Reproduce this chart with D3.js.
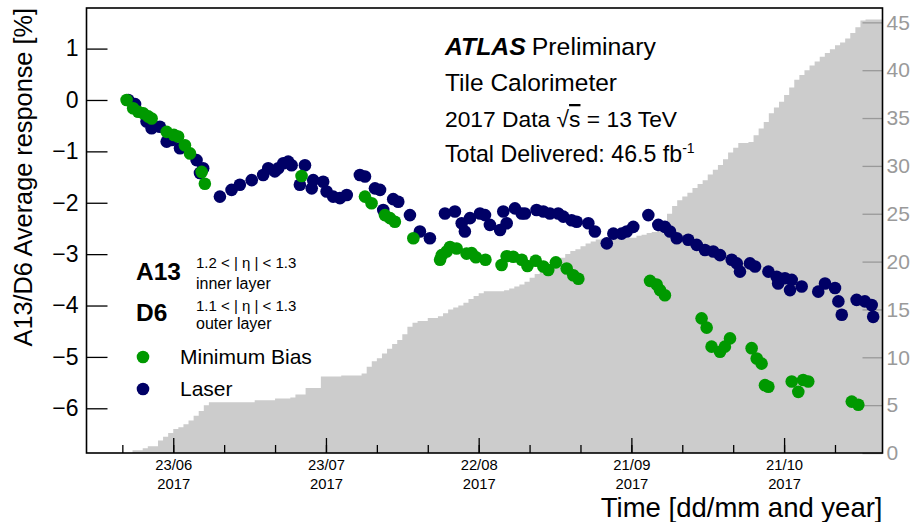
<!DOCTYPE html>
<html><head><meta charset="utf-8">
<script src="https://cdn.jsdelivr.net/npm/d3@7"></script>
<style>
body{margin:0;background:#fff}
text{font-family:"Liberation Sans",Arial,Helvetica,sans-serif}
</style>
</head><body>
<svg id="chart" width="914" height="522"></svg>
<script>
// ---------------- data ----------------
const laserDates = ["06-14 04","06-15 12","06-17 18","06-18 18","06-20 09","06-21 17","06-22 17","06-24 08","06-27 14","06-28 21",
"06-28 06","07-02 04","07-04 11","07-06 02","07-08 10","07-10 16","07-11 16","07-12 23","07-13 15","07-14 15",
"07-15 14","07-16 06","07-17 21","07-18 21","07-20 05","07-20 12","07-22 11","07-23 03","07-24 10","07-25 18",
"07-27 02","07-29 16","07-30 16","08-01 15","08-02 15","08-03 06","08-05 05","08-06 05","08-08 12","08-10 11",
"08-12 10","08-15 09","08-17 08","08-18 16","08-19 07","08-20 07","08-22 06","08-23 06","08-24 05","08-26 05",
"08-26 20","08-27 12","08-29 03","08-30 11","08-31 02","09-02 09","09-03 17","09-05 00","09-06 15","09-07 15",
"09-09 06","09-10 06","09-12 13","09-13 20","09-16 04","09-17 11","09-19 02","09-20 02","09-21 09","09-24 08",
"09-26 07","09-27 14","09-28 14","09-29 22","10-02 04","10-03 20","10-05 11","10-07 02","10-08 10","10-10 17",
"10-11 17","10-12 08","10-14 07","10-15 07","10-17 22","10-19 13","10-19 20","10-21 04","10-22 04","10-22 12",
"10-24 11","10-27 17","10-29 01","10-31 00","10-31 16","11-01 08","11-04 06","11-05 21","11-07 05","11-07 12"];
const laserValues = [0.00,-0.08,-0.42,-0.55,-0.52,-0.81,-0.78,-0.94,-1.17,-1.33,
-1.42,-1.88,-1.75,-1.65,-1.56,-1.46,-1.33,-1.39,-1.33,-1.23,
-1.20,-1.27,-1.65,-1.27,-1.72,-1.56,-1.59,-1.78,-1.88,-1.91,
-1.85,-1.46,-1.49,-1.72,-1.75,-2.14,-1.93,-1.98,-2.24,-2.56,
-2.69,-2.21,-2.17,-2.40,-2.56,-2.30,-2.21,-2.24,-2.43,-2.53,
-2.17,-2.40,-2.11,-2.21,-2.21,-2.14,-2.17,-2.21,-2.21,-2.27,
-2.34,-2.37,-2.40,-2.56,-2.79,-2.60,-2.60,-2.56,-2.47,-2.24,
-2.43,-2.47,-2.56,-2.69,-2.72,-2.82,-2.92,-2.95,-3.02,-3.11,
-3.18,-3.34,-3.18,-3.24,-3.34,-3.44,-3.57,-3.47,-3.70,-3.50,
-3.63,-3.73,-3.57,-3.66,-3.92,-4.18,-3.89,-3.92,-3.99,-4.22];

const mbDates = ["06-13 20","06-15 03","06-16 03","06-17 03","06-18 02","06-18 18","06-21 17","06-23 03","06-23 23","06-25 07",
"06-26 07","06-28 14","06-29 05","07-18 05","07-30 16","07-31 23","08-03 14","08-04 14","08-05 13","08-09 04",
"08-14 10","08-14 18","08-15 17","08-16 09","08-17 16","08-19 15","08-20 15","08-21 11","08-23 08","08-26 12",
"08-27 12","08-28 19","08-30 11","08-31 14","09-02 05","09-03 17","09-04 16","09-06 04","09-08 07","09-09 14",
"09-10 14","09-24 16","09-25 23","09-26 15","09-27 14","10-04 19","10-05 19","10-06 18","10-08 10","10-09 09",
"10-10 09","10-14 15","10-15 15","10-16 14","10-17 06","10-17 22","10-22 12","10-23 19","10-24 18","10-25 18",
"11-03 07","11-04 14"];
const mbValues = [0.00,-0.16,-0.23,-0.26,-0.32,-0.36,-0.62,-0.68,-0.71,-0.88,
-1.04,-1.40,-1.63,-1.48,-1.88,-2.01,-2.24,-2.30,-2.37,-2.69,
-3.11,-3.02,-2.95,-2.86,-2.89,-2.99,-2.98,-3.06,-3.11,-3.21,
-3.04,-3.05,-3.11,-3.23,-3.13,-3.24,-3.31,-3.16,-3.28,-3.41,
-3.48,-3.52,-3.59,-3.70,-3.80,-4.25,-4.43,-4.80,-4.90,-4.80,
-4.64,-4.83,-5.03,-5.13,-5.55,-5.58,-5.48,-5.68,-5.45,-5.48,
-5.87,-5.93];

// cumulative delivered luminosity [fb^-1]
const lumiDates = ["06-14","06-15","06-17","06-18","06-20","06-21","06-22","06-23","06-24","06-25","06-26","06-27","06-28","06-29","06-30",
"07-09","07-13","07-16","07-17","07-19","07-22","07-26","07-30","07-31",
"08-01","08-02","08-03","08-04","08-05","08-06","08-07","08-08","08-09","08-10",
"08-12","08-14","08-15","08-16","08-17","08-18","08-19","08-20","08-21","08-22","08-23",
"08-27","08-28","08-29","08-30","08-31",
"09-01","09-02","09-03","09-04","09-05","09-06","09-07","09-08","09-09","09-10","09-11","09-12","09-13","09-14","09-15",
"09-18","09-22","09-23","09-24","09-25","09-26","09-27","09-28","09-29","09-30",
"10-01","10-02","10-03","10-04","10-05","10-06","10-07","10-08","10-09","10-10","10-11","10-12",
"10-14","10-15","10-16","10-17","10-18","10-19","10-20","10-21","10-22","10-23","10-24","10-25","10-26","10-27","10-28","10-29","10-30","10-31",
"11-01","11-02","11-03","11-04","11-05","11-06"];
const lumiValues = [0.0,0.3,0.5,0.7,1.3,1.7,2.1,2.5,2.7,3.0,3.4,3.9,4.4,5.0,5.3,
5.5,5.7,5.8,6.1,6.8,8.0,8.1,8.3,9.0,
9.6,9.9,10.4,10.9,11.4,11.8,12.4,13.2,13.6,13.8,
14.1,14.3,14.6,15.0,15.2,15.4,15.7,16.1,16.4,16.7,16.9,
17.0,17.2,17.4,17.6,17.9,
18.3,18.7,19.1,19.5,19.8,20.1,20.4,20.8,21.1,21.3,21.6,21.9,22.1,22.3,22.4,
22.5,22.7,22.8,23.0,23.1,23.4,24.2,25.0,25.8,26.4,
26.8,27.2,27.7,28.1,28.5,29.1,29.6,30.1,30.7,31.4,31.9,32.4,
32.5,33.2,33.9,34.6,35.5,36.1,36.7,37.4,38.2,39.0,39.5,40.0,40.5,40.9,41.4,41.8,42.2,42.6,
42.9,43.3,43.9,44.5,45.2,45.3];

const timeRange = ["06-05 23","11-09 08"];
const responseRange = [-6.87, 1.79];
const lumiMax = 46.5;
const responseTicks = [1,0,-1,-2,-3,-4,-5,-6];
const lumiTicks = [0,5,10,15,20,25,30,35,40,45];
const majorTickDates = ["06-23","07-23","08-22","09-21","10-21"];

// ---------------- setup ----------------
const parseDH = d3.utcParse("%Y-%m-%d %H");
const pt = s => parseDH("2017-" + (s.length > 5 ? s : s + " 00"));

const W = 914, H = 522;
const L = 86.5, R = 882.5, T = 8, B = 453;
const svg = d3.select("#chart");
const font = '"Liberation Sans",Arial,Helvetica,sans-serif';

const x = d3.scaleUtc().domain(timeRange.map(pt)).range([L, R]);
const y = d3.scaleLinear().domain(responseRange).range([B, T]);
const yR = d3.scaleLinear().domain([0, lumiMax]).range([B, T]);

const green = "#009900", navy = "#000066", grey = "#cccccc";

svg.append("rect").attr("width", W).attr("height", H).attr("fill", "#fff");

svg.append("clipPath").attr("id", "frame").append("rect")
  .attr("x", L).attr("y", T).attr("width", R - L).attr("height", B - T);

// luminosity histogram
const lumi = lumiDates.map((d, i) => ({t: pt(d), v: lumiValues[i]}));
lumi.push({t: x.domain()[1], v: lumiValues[lumiValues.length - 1]});
const area = d3.area().curve(d3.curveStepAfter)
  .x(d => x(d.t)).y0(yR(0)).y1(d => yR(d.v));
svg.append("path").datum(lumi).attr("d", area)
  .attr("fill", grey).attr("clip-path", "url(#frame)");

// right axis (luminosity)
const rAx = svg.append("g").attr("transform", `translate(${R},0)`)
  .call(d3.axisRight(yR).tickValues(lumiTicks).tickSize(-20).tickPadding(4).tickFormat(d3.format("d")));
rAx.select(".domain").remove();
rAx.selectAll("line").attr("stroke", "#999").attr("stroke-width", 1.3);
rAx.selectAll("text").attr("fill", "#9a9a9a").style("font-size", "21px").style("font-family", font);

// points
const r = 6.3;
svg.append("g").selectAll("circle").data(laserDates.map((d, i) => [pt(d), laserValues[i]]))
  .join("circle").attr("cx", d => x(d[0])).attr("cy", d => y(d[1])).attr("r", r).attr("fill", navy);
svg.append("g").selectAll("circle").data(mbDates.map((d, i) => [pt(d), mbValues[i]]))
  .join("circle").attr("cx", d => x(d[0])).attr("cy", d => y(d[1])).attr("r", r).attr("fill", green);

// left axis
const lAx = svg.append("g").attr("transform", `translate(${L},0)`)
  .call(d3.axisLeft(y).tickValues(responseTicks).tickSize(-21).tickPadding(8)
    .tickFormat(d => d < 0 ? "\u2212" + Math.abs(d) : String(d)));
lAx.select(".domain").remove();
lAx.selectAll("line").attr("stroke", "#000").attr("stroke-width", 1.3);
lAx.selectAll("text").attr("fill", "#000").style("font-size", "23px").style("font-family", font);

// bottom axis: minor then major ticks
const minorDates = d3.range(-10, 151, 10).map(k => d3.utcDay.offset(pt("06-23"), k))
  .filter(d => d > x.domain()[0] && d < x.domain()[1]);
const bMin = svg.append("g").attr("transform", `translate(0,${B})`)
  .call(d3.axisBottom(x).tickValues(minorDates).tickSize(-8).tickFormat(""));
bMin.select(".domain").remove();
bMin.selectAll("line").attr("stroke", "#000").attr("stroke-width", 1.3);

const fmtDM = d3.utcFormat("%d/%m"), fmtY = d3.utcFormat("%Y");
const bAx = svg.append("g").attr("transform", `translate(0,${B})`)
  .call(d3.axisBottom(x).tickValues(majorTickDates.map(pt)).tickSize(-15).tickFormat(""));
bAx.select(".domain").remove();
bAx.selectAll("line").attr("stroke", "#000").attr("stroke-width", 1.3);
bAx.selectAll(".tick").each(function(d) {
  const g = d3.select(this);
  g.append("text").attr("y", 17).attr("text-anchor", "middle").attr("fill", "#000")
    .style("font-size", "14.8px").style("font-family", font).text(fmtDM(d));
  g.append("text").attr("y", 36).attr("text-anchor", "middle").attr("fill", "#000")
    .style("font-size", "14.8px").style("font-family", font).text(fmtY(d));
});

// frame
svg.append("rect").attr("x", L).attr("y", T).attr("width", R - L).attr("height", B - T)
  .attr("fill", "none").attr("stroke", "#000").attr("stroke-width", 1.6);

// axis titles
svg.append("text").attr("transform", `translate(32,${T}) rotate(-90)`).attr("text-anchor", "end")
  .style("font-size", "25.3px").text("A13/D6 Average response [%]");
svg.append("text").attr("x", R).attr("y", 517).attr("text-anchor", "end")
  .style("font-size", "27.5px").text("Time [dd/mm and year]");

// ATLAS labels
const tx = 445;
const t1 = svg.append("text").attr("x", tx).attr("y", 55).style("font-size", "24.8px");
t1.append("tspan").style("font-weight", "bold").style("font-style", "italic").text("ATLAS");
t1.append("tspan").attr("dx", 6).text("Preliminary");
svg.append("text").attr("x", tx).attr("y", 91).style("font-size", "24.5px").text("Tile Calorimeter");
const t3 = svg.append("text").attr("x", tx).attr("y", 127).style("font-size", "22.8px");
t3.append("tspan").text("2017 Data ");
t3.append("tspan").text("\u221A");
t3.append("tspan").style("text-decoration", "overline").text("s");
t3.append("tspan").text(" = 13 TeV");
const t4 = svg.append("text").attr("x", tx).attr("y", 162).style("font-size", "23.2px");
t4.append("tspan").text("Total Delivered: 46.5 fb");
t4.append("tspan").attr("dy", -9).style("font-size", "14px").text("-1");

// legend
svg.append("text").attr("x", 136).attr("y", 280).style("font-size", "24.5px").style("font-weight", "bold").text("A13");
svg.append("text").attr("x", 196).attr("y", 268).style("font-size", "15px").text("1.2 < | \u03B7 | < 1.3");
svg.append("text").attr("x", 196).attr("y", 289).style("font-size", "16px").text("inner layer");
svg.append("text").attr("x", 136).attr("y", 321).style("font-size", "24.5px").style("font-weight", "bold").text("D6");
svg.append("text").attr("x", 196).attr("y", 311).style("font-size", "15px").text("1.1 < | \u03B7 | < 1.3");
svg.append("text").attr("x", 196).attr("y", 329).style("font-size", "16px").text("outer layer");
const legendItems = [["Minimum Bias", green, 357], ["Laser", navy, 389]];
legendItems.forEach(([label, c, cy]) => {
  svg.append("circle").attr("cx", 143).attr("cy", cy).attr("r", r).attr("fill", c);
  svg.append("text").attr("x", 180).attr("y", cy + 7).style("font-size", "21px").text(label);
});
</script>
</body></html>
